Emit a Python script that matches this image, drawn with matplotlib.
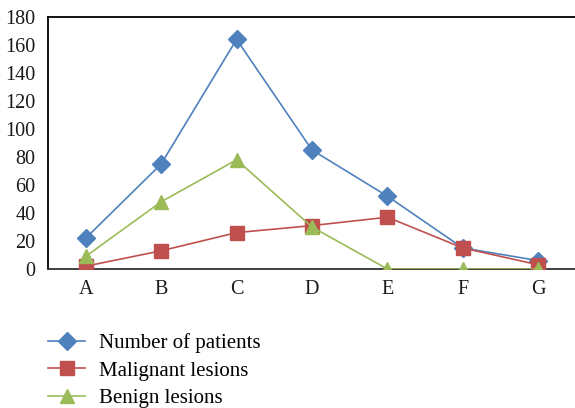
import matplotlib

matplotlib.use("Agg")
import matplotlib.pyplot as plt

# ── data ──────────────────────────────────────────────────────────────────────
categories = ["A", "B", "C", "D", "E", "F", "G"]
patients = [22, 75, 164, 85, 52, 15, 6]
malignant = [2, 13, 26, 31, 37, 15, 3]
benign = [9, 48, 78, 30, 0, 0, 0]
y_ticks = [0, 20, 40, 60, 80, 100, 120, 140, 160, 180]

plt.rcParams["font.family"] = ["Liberation Serif", "DejaVu Serif"]

fig = plt.figure(figsize=(5.75, 4.08), dpi=100)
ax = fig.add_axes([48 / 575, 1 - 269 / 408, 528 / 575, 252 / 408])

x = list(range(len(categories)))
ax.plot(x, patients, color="#4F81BD", marker="D", markersize=9, lw=1.2,
        label="Number of patients", zorder=3)
ax.plot(x, malignant, color="#C0504D", marker="s", markersize=10, lw=1.2,
        label="Malignant lesions", zorder=4)
ax.plot(x, benign, color="#9BBB59", marker="^", markersize=10, lw=1.2,
        label="Benign lesions", zorder=5)

ax.set_xlim(-0.5, len(categories) - 0.5)
ax.set_ylim(0, 180)
ax.set_yticks(y_ticks)
ax.set_xticks(x)
ax.set_xticklabels(categories)
ax.tick_params(length=0, labelsize=14.5, colors="#1a1a1a")
ax.tick_params(axis="x", pad=8)
ax.tick_params(axis="y", pad=9)
for side in ("left", "top", "bottom", "right"):
    ax.spines[side].set_linewidth(1.3)
ax.spines["bottom"].set_color("#333333")

fig.legend(loc="upper left", bbox_to_anchor=(40 / 575, 1 - 325 / 408),
           frameon=False, fontsize=15, handlelength=1.75, labelspacing=0.38,
           handletextpad=0.7, borderaxespad=0)

fig.savefig("out.png", dpi=100)
